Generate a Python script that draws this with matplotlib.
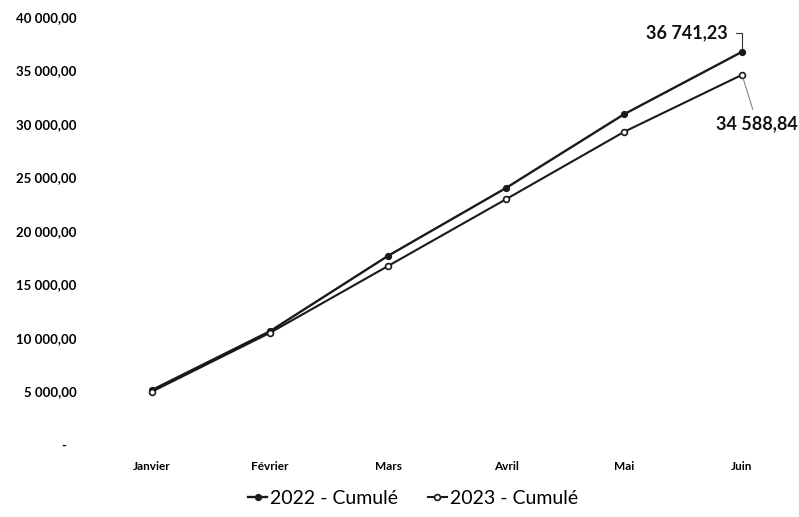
import matplotlib
matplotlib.use("Agg")
import matplotlib.pyplot as plt

# ---- data ----
months = ["Janvier", "Février", "Mars", "Avril", "Mai", "Juin"]
cumul_2022 = [5100, 10600, 17650, 24000, 30900, 36741.23]
cumul_2023 = [4950, 10450, 16700, 22950, 29250, 34588.84]
series_names = ["2022 - Cumulé", "2023 - Cumulé"]
yticks = [0, 5000, 10000, 15000, 20000, 25000, 30000, 35000, 40000]
ytick_labels = ["-   ", "5 000,00", "10 000,00", "15 000,00", "20 000,00",
                "25 000,00", "30 000,00", "35 000,00", "40 000,00"]
label_2022 = "36 741,23"
label_2023 = "34 588,84"

plt.rcParams['font.family'] = ['Lato', 'DejaVu Sans']

W, H = 799, 517
fig = plt.figure(figsize=(W / 100, H / 100), dpi=100)
ax = fig.add_axes([93 / W, (H - 444.5) / H, 708 / W, (444.5 - 17) / H])

x = list(range(len(months)))
col = '#1a1a1a'
l1, = ax.plot(x, cumul_2022, color=col, lw=1.7, marker='o', ms=4.2,
              mfc=col, mec=col, label=series_names[0], zorder=3)
l2, = ax.plot(x, cumul_2023, color=col, lw=1.5, marker='o', ms=4.2,
              mfc='white', mec=col, mew=1.2, label=series_names[1], zorder=3)

ax.set_xlim(-0.5, 5.5)
ax.set_ylim(0, 40000)
ax.set_yticks(yticks)
ax.set_yticklabels(ytick_labels, fontsize=9.5, fontweight='bold')
ax.set_xticks(x)
ax.set_xticklabels(months, fontsize=8.5, fontweight='bold')
ax.tick_params(axis='y', length=0, pad=12)
ax.tick_params(axis='x', length=0, pad=12)
for s in ax.spines.values():
    s.set_visible(False)

# data labels
ax.annotate(label_2022, xy=(5, cumul_2022[-1]), xytext=(-10, 13.5),
            textcoords='offset points', ha='right', va='center',
            fontsize=13, fontweight='bold', color='#111111',
            arrowprops=dict(arrowstyle='-', color='#333333', lw=0.8,
                            connectionstyle='angle,angleA=0,angleB=90,rad=0',
                            relpos=(1, 0.5), shrinkA=4, shrinkB=2))
ax.annotate(label_2023, xy=(5, cumul_2023[-1]), xytext=(-18.5, -35),
            textcoords='offset points', ha='left', va='center',
            fontsize=13, fontweight='bold', color='#111111',
            arrowprops=dict(arrowstyle='-', color='#777777', lw=0.7,
                            shrinkA=2, shrinkB=2), annotation_clip=False)

fig.legend(handles=[l1, l2], labels=series_names, loc='center',
           bbox_to_anchor=(413 / W, 1 - 498 / H), ncol=2, frameon=False,
           fontsize=14, handlelength=1.0, handletextpad=0.15,
           columnspacing=1.5)

fig.savefig("out.png", dpi=100)
